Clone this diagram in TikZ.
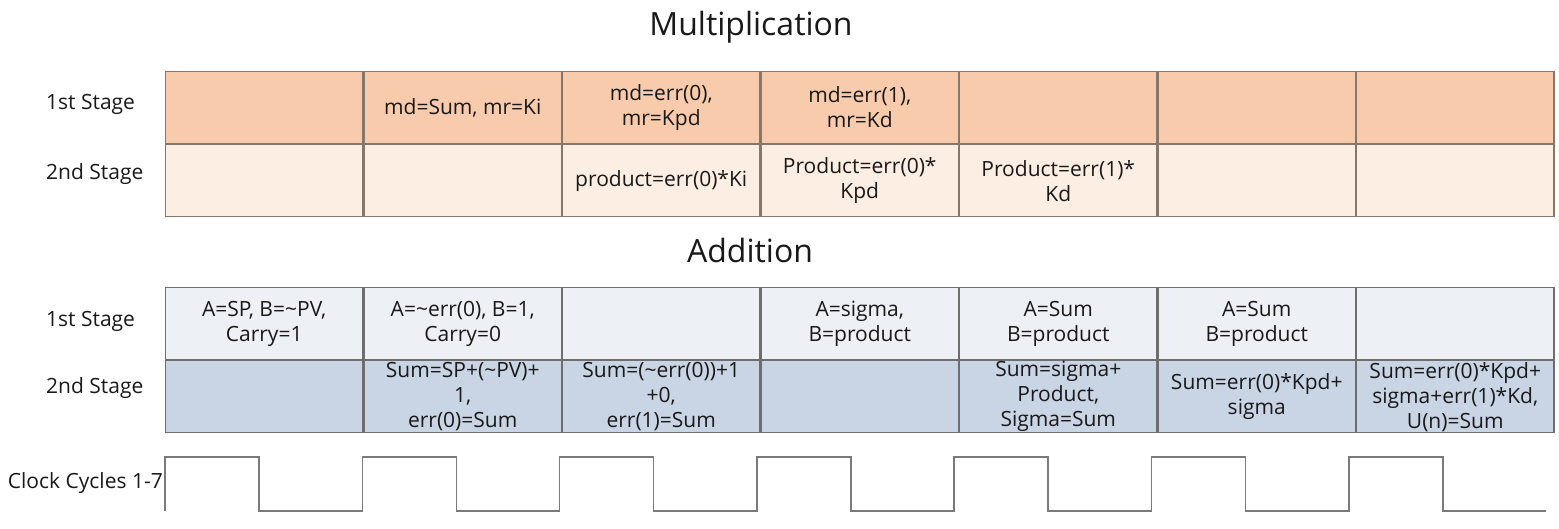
\documentclass[tikz,border=0pt]{standalone}
\usepackage{fontspec}
\setmainfont{Open Sans}

\definecolor{mulhi}{HTML}{F8CBAD}
\definecolor{mullo}{HTML}{FDEEE4}
\definecolor{addhi}{HTML}{EDF0F5}
\definecolor{addlo}{HTML}{C9D5E4}
\definecolor{mulline}{HTML}{85776C}
\definecolor{addline}{HTML}{6E6E6E}
\definecolor{clkline}{HTML}{7A7A7A}

\tikzset{
    cell/.style={draw, rectangle, line width=1.2pt, minimum width=197.3pt, minimum height=72pt, inner sep=0pt, align=center, anchor=180, font=\fontsize{21}{25}\selectfont, text=black!90},
    mulone/.style={cell, draw=mulline, fill=mulhi},
    multwo/.style={cell, draw=mulline, fill=mullo},
    addone/.style={cell, draw=addline, fill=addhi},
    addtwo/.style={cell, draw=addline, fill=addlo},
    stagelbl/.style={anchor=west, inner sep=3pt, font=\fontsize{21}{25}\selectfont, text=black!90},
    heading/.style={font=\fontsize{32}{38}\selectfont, text=black!90},
    clock/.style={draw=clkline, line width=1.5pt}
}

\begin{document}
\begin{tikzpicture}[x=1pt, y=-1pt]
    \useasboundingbox (0,0) rectangle (1559,528);

    %% multiplication
    \node[heading](multitle) at (751,27){Multiplication};
    \draw
    (165,71)node[mulone, anchor=north west](ma1){}
    (ma1.0)node[mulone](ma2){md=Sum, mr=Ki}
    (ma2.0)node[mulone](ma3){md=err(0),\\mr=Kpd}
    (ma3.0)node[mulone](ma4){md=err(1),\\mr=Kd}
    (ma4.0)node[mulone](ma5){}
    (ma5.0)node[mulone](ma6){}
    (ma6.0)node[mulone](ma7){}
    (ma1.south west)node[multwo, anchor=north west](mb1){}
    (mb1.0)node[multwo](mb2){}
    (mb2.0)node[multwo](mb3){product=err(0)*Ki}
    (mb3.0)node[multwo](mb4){Product=err(0)*\\Kpd}
    (mb4.0)node[multwo](mb5){Product=err(1)*\\Kd}
    (mb5.0)node[multwo](mb6){}
    (mb6.0)node[multwo](mb7){}
    ;
    \node[stagelbl](mlab1) at (43,104){1st Stage};
    \node[stagelbl](mlab2) at (43,174){2nd Stage};

    %% addition
    \node[heading](addtitle) at (750,250){Addition};
    \draw
    (165,287)node[addone, anchor=north west](aa1){A=SP, B=\textasciitilde PV,\\Carry=1}
    (aa1.0)node[addone](aa2){A=\textasciitilde err(0), B=1,\\Carry=0}
    (aa2.0)node[addone](aa3){}
    (aa3.0)node[addone](aa4){A=sigma,\\B=product}
    (aa4.0)node[addone](aa5){A=Sum\\B=product}
    (aa5.0)node[addone](aa6){A=Sum\\B=product}
    (aa6.0)node[addone](aa7){}
    (aa1.south west)node[addtwo, anchor=north west](ab1){}
    (ab1.0)node[addtwo](ab2){Sum=SP+(\textasciitilde PV)+\\1,\\err(0)=Sum}
    (ab2.0)node[addtwo](ab3){Sum=(\textasciitilde err(0))+1\\+0,\\err(1)=Sum}
    (ab3.0)node[addtwo](ab4){}
    (ab4.0)node[addtwo](ab5){Sum=sigma+\\Product,\\Sigma=Sum}
    (ab5.0)node[addtwo](ab6){Sum=err(0)*Kpd+\\sigma}
    (ab6.0)node[addtwo](ab7){Sum=err(0)*Kpd+\\sigma+err(1)*Kd,\\U(n)=Sum}
    ;
    \node[stagelbl](alab1) at (43,321){1st Stage};
    \node[stagelbl](alab2) at (43,388){2nd Stage};

    %% clock
    \node[anchor=east, inner sep=2pt, font=\fontsize{21}{25}\selectfont, text=black!90](clk) at (165,483){Clock Cycles 1-7};
    \draw[clock] (165,511)
    \foreach \k in {0,...,6}{
        -- ({165+197.3*\k},457) -- ({259+197.3*\k},457) -- ({259+197.3*\k},511) -- ({362.3+197.3*\k},511)
    };
\end{tikzpicture}
\end{document}
